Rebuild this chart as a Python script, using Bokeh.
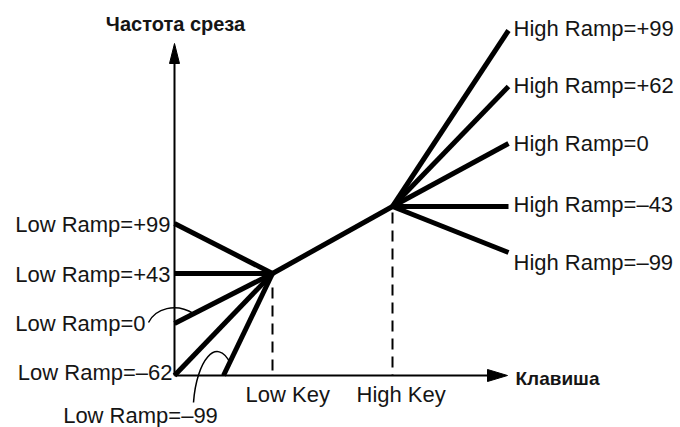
from bokeh.plotting import figure
from bokeh.models import Range1d, ColumnDataSource
from bokeh.core.properties import value
from bokeh.embed import file_html
from bokeh.resources import INLINE

# ---- data (abstract units: key position vs. cutoff frequency) ----
low_key = (98, 102)
high_key = (218, 169)

low_labels = ["Low Ramp=+99", "Low Ramp=+43", "Low Ramp=0", "Low Ramp=–62", "Low Ramp=–99"]
low_end_x = [0, 0, 0, 0, 49]
low_end_y = [152, 102, 52, 0, 0]

high_labels = ["High Ramp=+99", "High Ramp=+62", "High Ramp=0", "High Ramp=–43", "High Ramp=–99"]
high_end_x = [334, 334, 334, 334, 334]
high_end_y = [345, 289, 232, 169, 123]

key_labels = ["Low Key", "High Key"]
y_title = "Частота среза"
x_title = "Клавиша"

x_axis_end = 333
y_axis_end = 332

FONT = value("Liberation Sans")
TXT = "#151515"

p = figure(width=680, height=427, output_backend="svg", toolbar_location=None,
           x_range=Range1d(-174, 506), y_range=Range1d(-52, 375),
           x_axis_type=None, y_axis_type=None, min_border=0)
p.outline_line_color = None
p.background_fill_color = "white"
p.border_fill_color = "white"

# axes
p.segment(x0=[0, 0], y0=[0, 0], x1=[x_axis_end - 16, 0], y1=[0, y_axis_end - 16],
          line_color="black", line_width=2)
p.patch([x_axis_end, x_axis_end - 20, x_axis_end - 20], [0, 6, -6], color="black")
p.patch([0, -5, 5], [y_axis_end, y_axis_end - 20, y_axis_end - 20], color="black")

# dashed key markers
p.segment(x0=[low_key[0], high_key[0]], y0=[low_key[1] - 14, high_key[1] - 6],
          x1=[low_key[0], high_key[0]], y1=[0, 0],
          line_color="black", line_width=2, line_dash="11 7")

# low ramp lines
p.segment(x0=low_end_x, y0=low_end_y,
          x1=[low_key[0]] * len(low_end_x), y1=[low_key[1]] * len(low_end_y),
          line_color="black", line_width=5)
# middle segment
p.line([low_key[0], high_key[0]], [low_key[1], high_key[1]], line_color="black", line_width=5)
# high ramp lines
p.segment(x0=[high_key[0]] * len(high_end_x), y0=[high_key[1]] * len(high_end_y),
          x1=high_end_x, y1=high_end_y, line_color="black", line_width=5)

# leader hooks
p.bezier(x0=[-26, 19], y0=[53, -27], x1=[19, 56], y1=[62, 12],
         cx0=[-19, 22], cy0=[67, 15], cx1=[1, 42], cy1=[73, 40],
         line_color="black", line_width=1.5)

# low ramp labels
low_src = ColumnDataSource(dict(
    x=[-4, -4, -29, -2, -34],
    y=[low_end_y[0] - 1, low_end_y[1] - 1, low_end_y[2], low_end_y[3] + 3, -40],
    t=low_labels,
    a=["right", "right", "right", "right", "center"]))
p.text(x="x", y="y", text="t", source=low_src, text_align="a", text_baseline="middle",
       text_font=FONT, text_font_size="22px", text_color=TXT)

# high ramp labels
high_src = ColumnDataSource(dict(
    x=[x + 5 for x in high_end_x],
    y=[high_end_y[0] + 2, high_end_y[1] + 1, high_end_y[2], high_end_y[3] + 2, high_end_y[4] - 10],
    t=high_labels))
p.text(x="x", y="y", text="t", source=high_src, text_align="left", text_baseline="middle",
       text_font=FONT, text_font_size="22px", text_color=TXT)

# key labels
p.text(x=[low_key[0] - 27, high_key[0] - 36], y=[-19, -19], text=key_labels,
       text_align="left", text_baseline="middle",
       text_font=FONT, text_font_size="22px", text_color=TXT)

# axis titles
p.text(x=[1], y=[352], text=[y_title], text_align="center", text_baseline="middle",
       text_font=FONT, text_font_style="bold", text_font_size="20px", text_color=TXT)
p.text(x=[x_axis_end + 8], y=[-3], text=[x_title], text_align="left", text_baseline="middle",
       text_font=FONT, text_font_style="bold", text_font_size="19px", text_color=TXT)

open("out.html", "w").write(file_html(p, INLINE))
